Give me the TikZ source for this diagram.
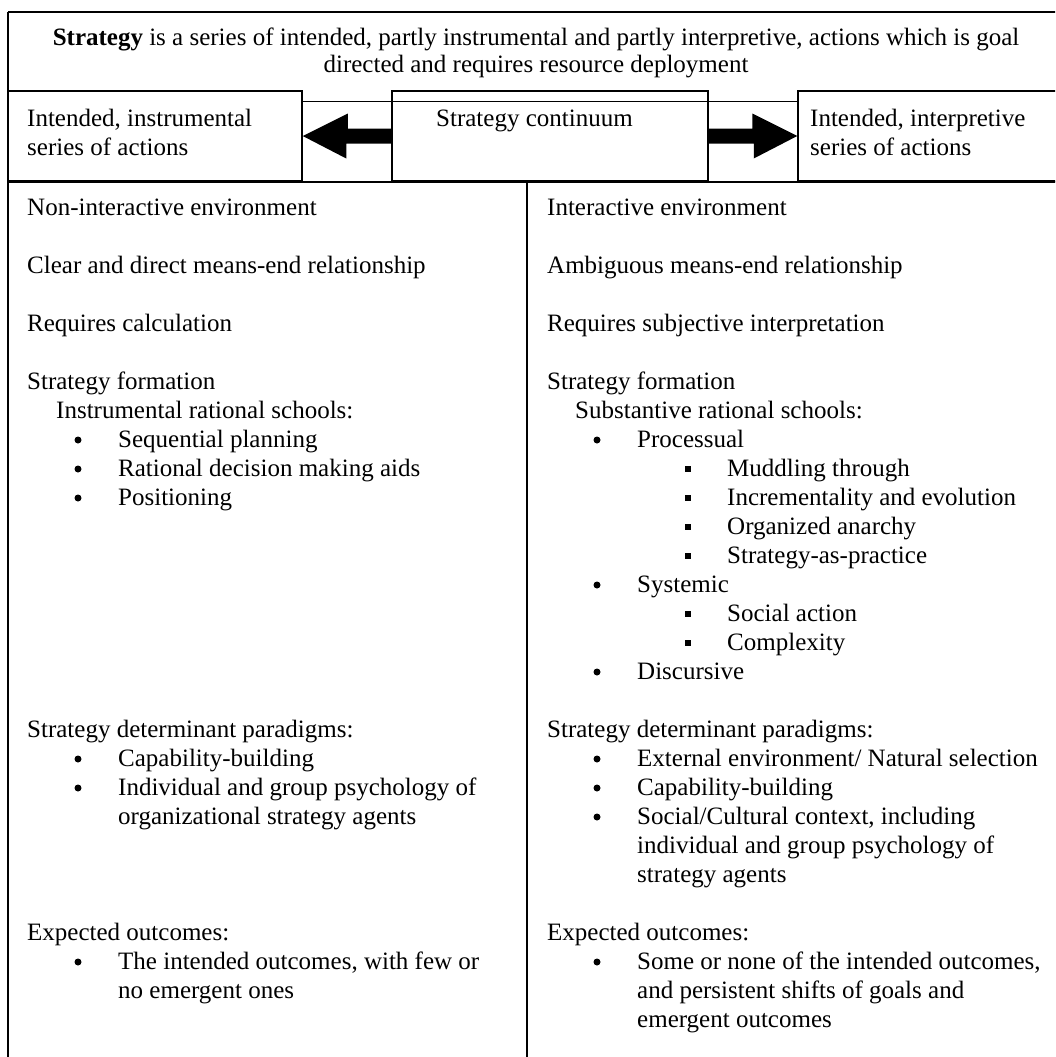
\documentclass[tikz,border=0pt]{standalone}
\usepackage{fontspec}
\setmainfont{Liberation Serif}
\usetikzlibrary{calc}
\newcommand\fsz{\fontsize{25}{29}\selectfont}
\begin{document}
\begin{tikzpicture}[x=1pt,y=-1pt,
  txt/.style={anchor=base west,inner sep=0pt,font=\fsz},
  ctr/.style={anchor=base,inner sep=0pt,font=\fsz},
  dot/.style={circle,fill=black,inner sep=0pt,minimum size=7pt},
  sqb/.style={rectangle,fill=black,inner sep=0pt,minimum size=6.5pt},
  box/.style={draw=black,line width=1.5pt,inner sep=0pt,minimum height=90pt},
  rule/.style={line width=1.6pt},
  hair/.style={line width=0.9pt},
  heavy/.style={line width=2pt}]
\useasboundingbox (0,0) rectangle (1055,1057);
\clip (0,0) rectangle (1055,1057);
\fill[white] (0,0) rectangle (1055,1057);

% frame
\draw[rule] (8,12) -- (1075,12);
\draw[rule] (8,12) -- (8,1075);

% header
\node[ctr] (h1) at (536,46) {\textbf{Strategy} is a series of intended, partly instrumental and partly interpretive, actions which is goal};
\node[ctr] (h2) at (536,73) {directed and requires resource deployment};

% row of boxes
\node[box,minimum width=294pt] (lbox) at (155,136) {};
\node[box,minimum width=316pt] (mbox) at (550,136) {};
\node[box,minimum width=266pt] (rbox) at (931,136) {};
\draw[hair] ($(lbox.north east)+(0,11)$) -- ($(rbox.north west)+(0,11)$);

\node[txt] (lt1) at (27,126) {Intended, instrumental};
\node[txt] (lt2) at (27,155) {series of actions};
\node[txt] (ct) at (436,126) {Strategy continuum};
\node[txt] (rt1) at (810,126) {Intended, interpretive};
\node[txt] (rt2) at (810,155) {series of actions};

% arrows
\fill (lbox.east) -- ++(45,-22.5) -- ++(0,15) -- ($(mbox.west)+(0,-7.5)$) -- ($(mbox.west)+(0,7.5)$) -- ++(-45,0) -- ++(0,15) -- cycle;
\fill (rbox.west) -- ++(-45,-22.5) -- ++(0,15) -- ($(mbox.east)+(0,-7.5)$) -- ($(mbox.east)+(0,7.5)$) -- ++(45,0) -- ++(0,15) -- cycle;

% lower rules
\draw[heavy] (lbox.south west) -- ($(rbox.south east)+(20,0)$);
\draw[heavy] (527,181) -- (527,1075);

% left column
\node[txt] (L1) at (27,215) {Non-interactive environment};
\node[txt] (L2) at (27,273) {Clear and direct means-end relationship};
\node[txt] (L3) at (27,331) {Requires calculation};
\node[txt] (L4) at (27,389) {Strategy formation};
\node[txt] (L5) at (56,418) {Instrumental rational schools:};
\node[dot] (Ld1) at (78,440) {}; \node[txt] (L6) at (118,447) {Sequential planning};
\node[dot] (Ld2) at (78,469) {}; \node[txt] (L7) at (118,476) {Rational decision making aids};
\node[dot] (Ld3) at (78,498) {}; \node[txt] (L8) at (118,505) {Positioning};
\node[txt] (L9) at (27,737) {Strategy determinant paradigms:};
\node[dot] (Ld4) at (78,759) {}; \node[txt] (L10) at (118,766) {Capability-building};
\node[dot] (Ld5) at (78,788) {}; \node[txt] (L11) at (118,795) {Individual and group psychology of};
\node[txt] (L12) at (118,824) {organizational strategy agents};
\node[txt] (L13) at (27,940) {Expected outcomes:};
\node[dot] (Ld6) at (78,962) {}; \node[txt] (L14) at (118,969) {The intended outcomes, with few or};
\node[txt] (L15) at (118,998) {no emergent ones};

% right column
\node[txt] (R1) at (547,215) {Interactive environment};
\node[txt] (R2) at (547,273) {Ambiguous means-end relationship};
\node[txt] (R3) at (547,331) {Requires subjective interpretation};
\node[txt] (R4) at (547,389) {Strategy formation};
\node[txt] (R5) at (575,418) {Substantive rational schools:};
\node[dot] (Rd1) at (597,440) {}; \node[txt] (R6) at (637,447) {Processual};
\node[sqb] (Rs1) at (688,469) {}; \node[txt] (R7) at (727,476) {Muddling through};
\node[sqb] (Rs2) at (688,498) {}; \node[txt] (R8) at (727,505) {Incrementality and evolution};
\node[sqb] (Rs3) at (688,527) {}; \node[txt] (R9) at (727,534) {Organized anarchy};
\node[sqb] (Rs4) at (688,556) {}; \node[txt] (R10) at (727,563) {Strategy-as-practice};
\node[dot] (Rd2) at (597,585) {}; \node[txt] (R11) at (637,592) {Systemic};
\node[sqb] (Rs5) at (688,614) {}; \node[txt] (R12) at (727,621) {Social action};
\node[sqb] (Rs6) at (688,643) {}; \node[txt] (R13) at (727,650) {Complexity};
\node[dot] (Rd3) at (597,672) {}; \node[txt] (R14) at (637,679) {Discursive};
\node[txt] (R15) at (547,737) {Strategy determinant paradigms:};
\node[dot] (Rd4) at (597,759) {}; \node[txt] (R16) at (637,766) {External environment/ Natural selection};
\node[dot] (Rd5) at (597,788) {}; \node[txt] (R17) at (637,795) {Capability-building};
\node[dot] (Rd6) at (597,817) {}; \node[txt] (R18) at (637,824) {Social/Cultural context, including};
\node[txt] (R19) at (637,853) {individual and group psychology of};
\node[txt] (R20) at (637,882) {strategy agents};
\node[txt] (R21) at (547,940) {Expected outcomes:};
\node[dot] (Rd7) at (597,962) {}; \node[txt] (R22) at (637,969) {Some or none of the intended outcomes,};
\node[txt] (R23) at (637,998) {and persistent shifts of goals and};
\node[txt] (R24) at (637,1027) {emergent outcomes};
\end{tikzpicture}
\end{document}
